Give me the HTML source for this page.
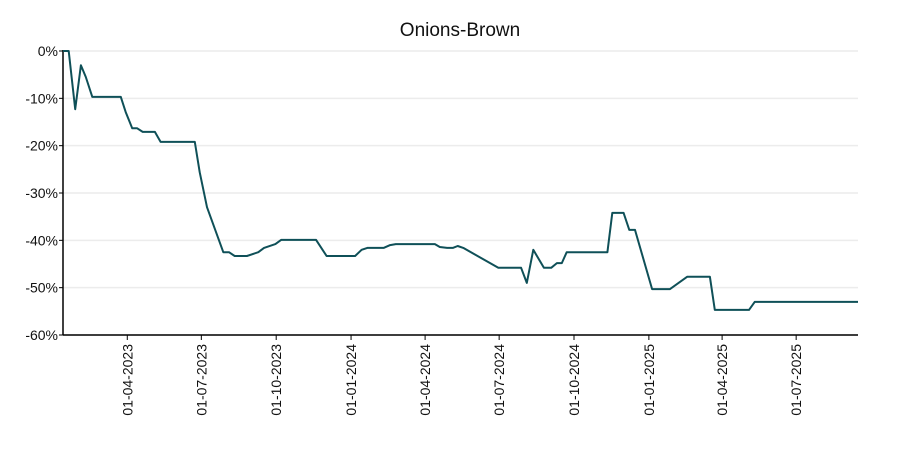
<!DOCTYPE html>
<html><head><meta charset="utf-8"><style>
body{margin:0;background:#fff;}
svg{display:block;font-family:"Liberation Sans",sans-serif;}
</style></head><body>
<svg id="chart" width="900" height="450">
<text x="460" y="36" text-anchor="middle" font-size="19" fill="#111">Onions-Brown</text>
<g id="grid"></g><g id="yaxis"></g><g id="xaxis"></g><g id="series"></g>
</svg>
<script>
const dates=["2023-01-12","2023-01-19","2023-01-27","2023-02-03","2023-02-09","2023-02-17","2023-03-24","2023-03-30","2023-04-07","2023-04-13","2023-04-20","2023-05-05","2023-05-12","2023-06-23","2023-06-29","2023-07-08","2023-07-28","2023-08-04","2023-08-11","2023-08-26","2023-09-09","2023-09-16","2023-09-30","2023-10-07","2023-11-19","2023-12-02","2024-01-06","2024-01-14","2024-01-21","2024-02-10","2024-02-18","2024-02-25","2024-04-13","2024-04-19","2024-04-28","2024-05-05","2024-05-11","2024-05-18","2024-06-30","2024-07-28","2024-08-04","2024-08-12","2024-08-25","2024-09-03","2024-09-10","2024-09-16","2024-09-22","2024-11-11","2024-11-17","2024-12-01","2024-12-08","2024-12-15","2025-01-05","2025-01-27","2025-02-17","2025-03-17","2025-03-23","2025-05-04","2025-05-11","2025-09-15"];
const values=[0,0,-12.3,-3,-5.5,-9.7,-9.7,-12.9,-16.3,-16.3,-17.1,-17.1,-19.2,-19.2,-25.6,-33,-42.5,-42.5,-43.3,-43.3,-42.5,-41.6,-40.8,-39.9,-39.9,-43.3,-43.3,-42,-41.6,-41.6,-41,-40.8,-40.8,-41.4,-41.6,-41.6,-41.2,-41.6,-45.8,-45.8,-49,-42,-45.8,-45.8,-44.8,-44.8,-42.5,-42.5,-34.2,-34.2,-37.8,-37.8,-50.3,-50.3,-47.7,-47.7,-54.7,-54.7,-53,-53];
const yTicks=[0,-10,-20,-30,-40,-50,-60];
const xTickLabels=["01-04-2023","01-07-2023","01-10-2023","01-01-2024","01-04-2024","01-07-2024","01-10-2024","01-01-2025","01-04-2025","01-07-2025"];
const NS="http://www.w3.org/2000/svg";
const X0=63,X1=858,Y0=51,Y1=335;
const t0=Date.parse("2023-01-12"),t1=Date.parse("2025-09-15");
function xs(d){return X0+(Date.parse(d)-t0)/(t1-t0)*(X1-X0);}
function ys(v){return Y0+(0-v)/60*(Y1-Y0);}
function mk(tag,attrs,parent){const e=document.createElementNS(NS,tag);for(const k in attrs)e.setAttribute(k,attrs[k]);parent.appendChild(e);return e;}
const grid=document.getElementById('grid'),ya=document.getElementById('yaxis'),xa=document.getElementById('xaxis'),se=document.getElementById('series');
yTicks.forEach(v=>{
 const y=ys(v);
 const g=mk('line',{x1:X0,x2:X1,y1:y,y2:y,stroke:'#ececec','stroke-width':1.5},grid);
 
 
 const tk=mk('line',{x1:X0-4,x2:X0,y1:y,y2:y,stroke:'#000','stroke-width':1},ya);
 
 
 const t=mk('text',{x:X0-5,y:y+5,'text-anchor':'end','font-size':14,fill:'#111'},ya);
 t.textContent=v+'%';
 
 
});
xTickLabels.forEach(l=>{
 const p=l.split('-');const x=xs(p[2]+'-'+p[1]+'-'+p[0]);
 const tk=mk('line',{x1:x,x2:x,y1:Y1,y2:Y1+5,stroke:'#000','stroke-width':1},xa);
 
 
 const t=mk('text',{x:0,y:0,'text-anchor':'end','font-size':14,fill:'#111',transform:`translate(${x+5},${Y1+9}) rotate(-90)`},xa);
 t.textContent=l;
 
 
});
const la=mk('line',{x1:X0,x2:X0,y1:Y0-1,y2:Y1,stroke:'#000','stroke-width':1.5},ya);


const lb=mk('line',{x1:X0,x2:X1,y1:Y1,y2:Y1,stroke:'#000','stroke-width':1.5},xa);


const pts=dates.map((d,i)=>xs(d).toFixed(1)+','+ys(values[i]).toFixed(1)).join(' ');
const pl=mk('polyline',{points:pts,fill:'none',stroke:'#0f5058','stroke-width':2,'stroke-linejoin':'round'},se);


</script>
</body></html>
